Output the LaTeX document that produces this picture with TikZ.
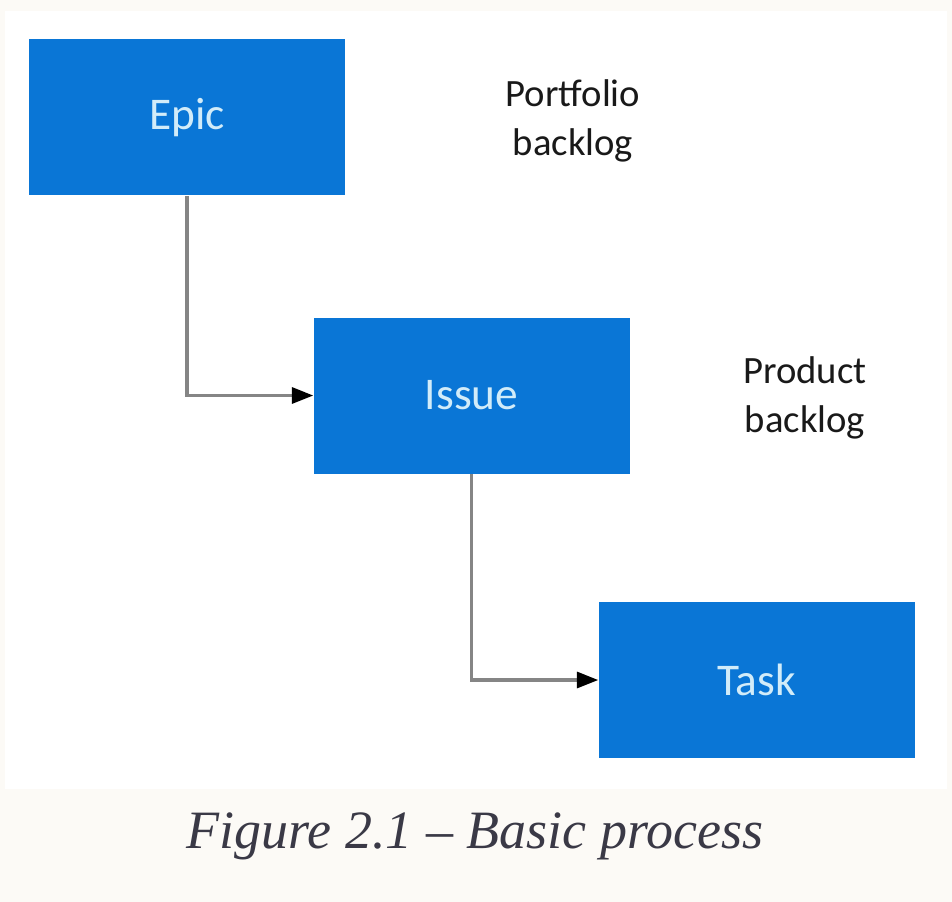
\documentclass[tikz,border=0pt]{standalone}
\usepackage{fontspec}
\setmainfont{Liberation Serif}
\setsansfont{Carlito}
\usetikzlibrary{arrows.meta}
\definecolor{pagebg}{HTML}{FCFAF6}
\definecolor{itemblue}{HTML}{0A76D6}
\definecolor{itemtext}{HTML}{D2ECF9}
\definecolor{linkgray}{HTML}{858585}
\definecolor{captext}{HTML}{3A3946}
\tikzset{
  item/.style={fill=itemblue, text=itemtext, minimum width=237pt, minimum height=117pt,
    inner sep=0pt, font=\sffamily\fontsize{34}{40}\selectfont},
  level/.style={text=black!90, align=center, font=\sffamily\fontsize{29}{37}\selectfont},
  link/.style={draw=linkgray, line width=2.3pt, -{Triangle[length=16pt,width=12pt,fill=black,color=black]}}
}
\begin{document}
\begin{tikzpicture}[x=0.75pt,y=-0.75pt]
\fill[pagebg] (0,0) rectangle (952,902);
\fill[white] (5,11) rectangle (947,789);
\node[item] (epic)  at (187,117.5) {Epic};
\node[item] (issue) at (471.5,395.5) {Issue};
\node[item] (task)  at (756.5,680) {Task};
\node[level] (portfolio) at (573,121) {Portfolio\\backlog};
\node[level] (product)   at (805,398) {Product\\backlog};
\draw[link] (epic.south) |- (issue.west);
\draw[link] (issue.south) |- (task.west);
\node[text=captext, font=\itshape\fontsize{40.5}{46}\selectfont] (caption) at (475,836) {Figure 2.1 – Basic process};
\end{tikzpicture}
\end{document}
